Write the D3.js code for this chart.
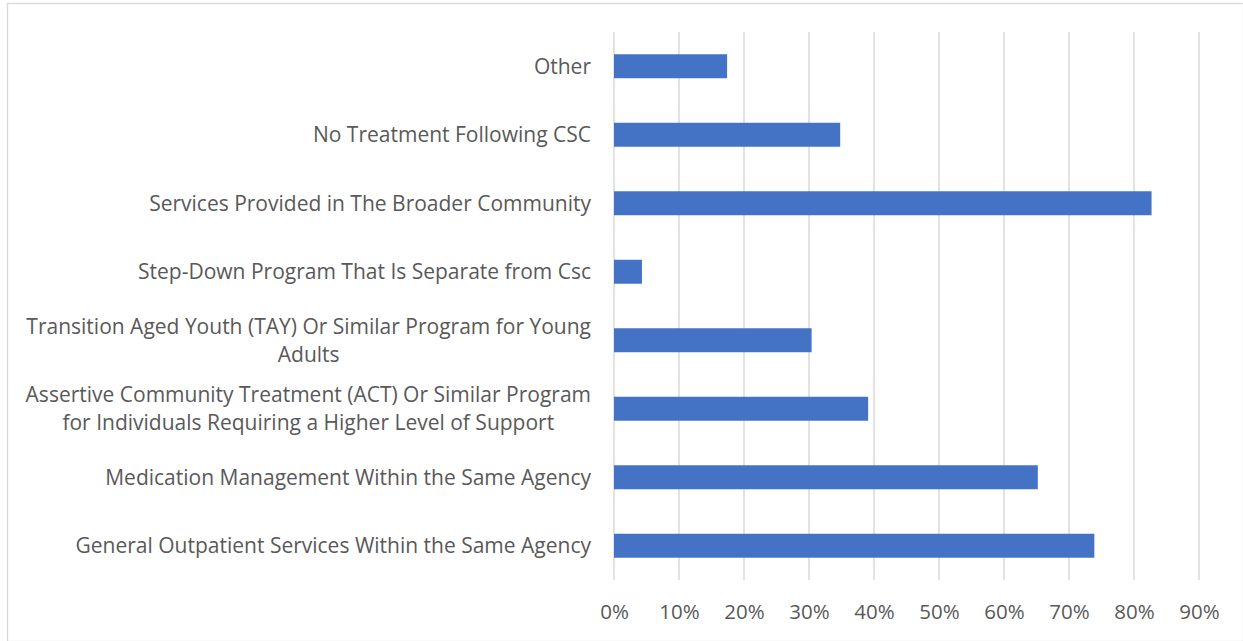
<!DOCTYPE html>
<html>
<head>
<meta charset="utf-8">
<script src="https://cdn.jsdelivr.net/npm/d3@7"></script>
<style>
  body { margin: 0; background: #fff; }
  text { font-family: "Open Sans", sans-serif; fill: #595959; }
</style>
</head>
<body>
<svg id="chart"></svg>
<script>
// Categories from top to bottom, each label split into its wrapped lines
const categories = [
  ["Other"],
  ["No Treatment Following CSC"],
  ["Services Provided in The Broader Community"],
  ["Step-Down Program That Is Separate from Csc"],
  ["Transition Aged Youth (TAY) Or Similar Program for Young", "Adults"],
  ["Assertive Community Treatment (ACT) Or Similar Program", "for Individuals Requiring a Higher Level of Support"],
  ["Medication Management Within the Same Agency"],
  ["General Outpatient Services Within the Same Agency"]
];
const values = [0.174, 0.348, 0.827, 0.043, 0.304, 0.391, 0.652, 0.739];
const xTicks = [0, 0.1, 0.2, 0.3, 0.4, 0.5, 0.6, 0.7, 0.8, 0.9];

const width = 1243;
const height = 641;
const labelSize = "21px";
const tickSize = "20.5px";

const svg = d3.select("#chart")
  .attr("width", width)
  .attr("height", height);

// chart frame
svg.append("rect")
  .attr("x", 7.5)
  .attr("y", 3.5)
  .attr("width", width - 7)
  .attr("height", height - 3)
  .attr("fill", "none")
  .attr("stroke", "#d9d9d9")
  .attr("stroke-width", 1.3);

const x = d3.scaleLinear()
  .domain([0, 0.9])
  .range([614, 1199]);

const y = d3.scaleBand()
  .domain(d3.range(categories.length))
  .range([32, 580])
  .paddingInner(0.65)
  .paddingOuter(0.325);

// vertical gridlines
svg.append("g")
  .selectAll("line")
  .data(xTicks)
  .enter()
  .append("line")
  .attr("x1", d => x(d))
  .attr("x2", d => x(d))
  .attr("y1", 32)
  .attr("y2", 580)
  .attr("stroke", "#d9d9d9")
  .attr("stroke-width", 1.5);

// x axis labels
const xAxis = d3.axisBottom(x)
  .tickValues(xTicks)
  .tickFormat(d3.format(".0%"))
  .tickSize(0)
  .tickPadding(0);

const xg = svg.append("g")
  .attr("transform", "translate(0,612)")
  .call(xAxis);
xg.select(".domain").remove();
xg.selectAll("text")
  .attr("dy", "0.35em")
  .style("font-size", tickSize)
  .style("font-family", "'Open Sans', sans-serif")
  .attr("fill", "#595959");

// bars
svg.append("g")
  .selectAll("rect")
  .data(values)
  .enter()
  .append("rect")
  .attr("x", x(0))
  .attr("y", (d, i) => y(i))
  .attr("width", d => x(d) - x(0))
  .attr("height", y.bandwidth())
  .attr("fill", "#4472c4");

// category labels, wrapped lines centered on each other, block right aligned
const lineH = 28;
const labels = svg.append("g")
  .selectAll("g")
  .data(categories)
  .enter()
  .append("g");

labels.each(function(lines, i) {
  const g = d3.select(this);
  const cy = y(i) + y.bandwidth() / 2;
  const texts = lines.map((line, k) =>
    g.append("text")
      .attr("y", cy + (k - (lines.length - 1) / 2) * lineH)
      .attr("dy", "0.35em")
      .style("font-size", labelSize)
      .text(line)
  );
  const widths = texts.map(t => t.node().getComputedTextLength());
  const maxW = d3.max(widths);
  const center = 591 - maxW / 2;
  texts.forEach(t => t.attr("x", center).attr("text-anchor", "middle"));
});
</script>
</body>
</html>
